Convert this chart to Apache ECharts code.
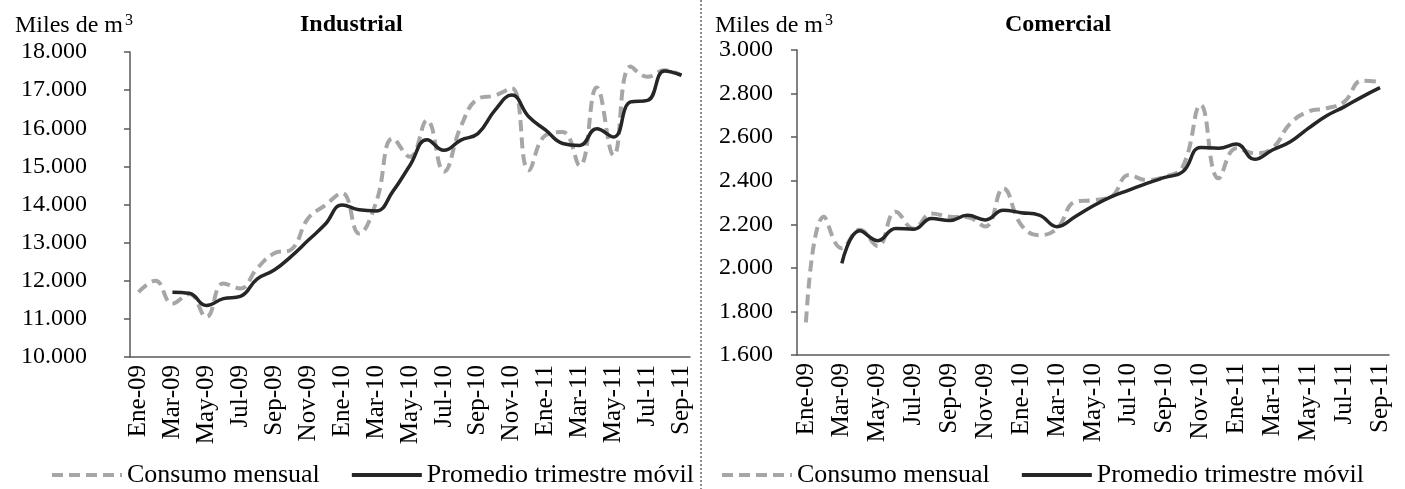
<!DOCTYPE html>
<html>
<head>
<meta charset="utf-8">
<script src="https://cdn.jsdelivr.net/npm/echarts@6/dist/echarts.min.js"></script>
<style>
  html, body { margin: 0; padding: 0; background: #fff; }
  #chart { width: 1405px; height: 489px; }
</style>
</head>
<body>
<div id="chart"></div>
<script>
// months Ene-09 .. Sep-11
const months = [
  "Ene-09", "Feb-09", "Mar-09", "Abr-09", "May-09", "Jun-09", "Jul-09", "Ago-09", "Sep-09", "Oct-09", "Nov-09", "Dic-09",
  "Ene-10", "Feb-10", "Mar-10", "Abr-10", "May-10", "Jun-10", "Jul-10", "Ago-10", "Sep-10", "Oct-10", "Nov-10", "Dic-10",
  "Ene-11", "Feb-11", "Mar-11", "Abr-11", "May-11", "Jun-11", "Jul-11", "Ago-11", "Sep-11"
];

// Industrial (miles de m3)
const indMensual = [
  11700, 12000, 11400, 11650, 11050, 11930, 11800, 12330, 12720, 12820, 13640, 13980,
  14300, 13240, 14050, 15730, 15250, 16210, 14860, 16050, 16770, 16860, 17050, 14900,
  15820, 15900, 15020, 17070, 15290, 17620, 17350, 17520, 17390
];
const indPromedio = [
  null, null, 11700, 11670, 11350, 11530, 11590, 12050, 12280, 12640, 13060, 13480,
  13990, 13860, 13830, 14350, 15030, 15700, 15420, 15690, 15860, 16470, 16870, 16300,
  15950, 15600, 15550, 15990, 15770, 16690, 16730, 17500, 17390
];

// Comercial (miles de m3)
const comMensual = [
  1750, 2235, 2090, 2175, 2100, 2258, 2180, 2250, 2235, 2232, 2190, 2365,
  2197, 2150, 2181, 2303, 2311, 2326, 2426, 2403, 2418, 2464, 2747, 2411,
  2549, 2526, 2549, 2663, 2717, 2732, 2762, 2859, 2854
];
const comPromedio = [
  null, null, 2021, 2170, 2125, 2181, 2177, 2226, 2217, 2241, 2220, 2265,
  2253, 2242, 2189, 2235, 2284, 2326, 2357, 2388, 2415, 2441, 2553, 2549,
  2568, 2498, 2541, 2579, 2640, 2697, 2739, 2785, 2827
];

const FONT = "Liberation Serif";
const AXIS_COLOR = "#595959";

function fmtMiles(v) {
  // 18000 -> "18.000"
  return (v / 1000).toFixed(3);
}

function makeXAxis(gridIndex) {
  return {
    type: "category",
    gridIndex: gridIndex,
    data: months,
    boundaryGap: true,
    axisLine: { lineStyle: { color: AXIS_COLOR, width: 1.5 } },
    axisTick: { interval: 1, length: 6, lineStyle: { color: AXIS_COLOR, width: 1.5 } },
    axisLabel: {
      interval: 1,
      rotate: 90,
      margin: 8,
      color: "#000",
      fontFamily: FONT,
      fontSize: 25
    },
    splitLine: { show: false }
  };
}

function makeYAxis(gridIndex, min, max, step, margin) {
  return {
    type: "value",
    gridIndex: gridIndex,
    min: min,
    max: max,
    interval: step,
    axisLine: { show: true, lineStyle: { color: AXIS_COLOR, width: 1.5 } },
    axisTick: { show: true, length: 6, lineStyle: { color: AXIS_COLOR, width: 1.5 } },
    axisLabel: {
      margin: margin,
      color: "#000",
      fontFamily: FONT,
      fontSize: 24,
      formatter: fmtMiles
    },
    splitLine: { show: false }
  };
}

function dashedSeries(idx, data) {
  return {
    name: "Consumo mensual",
    type: "line",
    xAxisIndex: idx,
    yAxisIndex: idx,
    data: data,
    smooth: 0.45,
    symbol: "none",
    lineStyle: { color: "#a6a6a6", width: 4, type: [11, 6] },
    itemStyle: { color: "#a6a6a6" },
    z: 2
  };
}

function solidSeries(idx, data) {
  return {
    name: "Promedio trimestre móvil",
    type: "line",
    xAxisIndex: idx,
    yAxisIndex: idx,
    data: data,
    smooth: 0.45,
    symbol: "none",
    lineStyle: { color: "#262626", width: 3.5 },
    itemStyle: { color: "#262626" },
    z: 3
  };
}

function makeLegend(left) {
  return {
    orient: "horizontal",
    left: left,
    top: 457,
    itemWidth: 70,
    itemHeight: 14,
    itemGap: 30,
    data: ["Consumo mensual", "Promedio trimestre móvil"],
    itemStyle: { opacity: 0 }, // hide the circle, keep the line sample
    lineStyle: { width: 4 },
    textStyle: { fontFamily: FONT, fontSize: 26, color: "#000" },
    selectedMode: false
  };
}

const unitText = {
  text: "Miles de m{sup|3}",
  textStyle: {
    fontFamily: FONT,
    fontSize: 24,
    fontWeight: "normal",
    color: "#000",
    rich: { sup: { fontFamily: FONT, fontSize: 16, color: "#000", padding: [0, 0, 10, 2] } }
  }
};

const chart = echarts.init(document.getElementById("chart"));

const option = {
  backgroundColor: "#fff",
  animation: false,
  title: [
    Object.assign({ left: 10, top: 8 }, unitText),
    Object.assign({ left: 710, top: 8 }, unitText),
    { text: "Industrial", left: 295, top: 8,
      textStyle: { fontFamily: FONT, fontSize: 24, fontWeight: "bold", color: "#000" } },
    { text: "Comercial", left: 1000, top: 8,
      textStyle: { fontFamily: FONT, fontSize: 24, fontWeight: "bold", color: "#000" } }
  ],
  legend: [makeLegend(45), makeLegend(715)],
  grid: [
    { left: 130, top: 52, width: 560, height: 305 },
    { left: 797, top: 50, width: 592, height: 305 }
  ],
  xAxis: [makeXAxis(0), makeXAxis(1)],
  yAxis: [
    makeYAxis(0, 10000, 18000, 1000, 43),
    makeYAxis(1, 1600, 3000, 200, 24)
  ],
  series: [
    dashedSeries(0, indMensual),
    solidSeries(0, indPromedio),
    dashedSeries(1, comMensual),
    solidSeries(1, comPromedio)
  ],
  graphic: [
    {
      // dotted divider between the two panels
      type: "line",
      shape: { x1: 701, y1: 0, x2: 701, y2: 489 },
      style: { stroke: "#8c8c8c", lineWidth: 2, lineDash: [2, 2] }
    }
  ]
};

chart.setOption(option);
</script>
</body>
</html>
